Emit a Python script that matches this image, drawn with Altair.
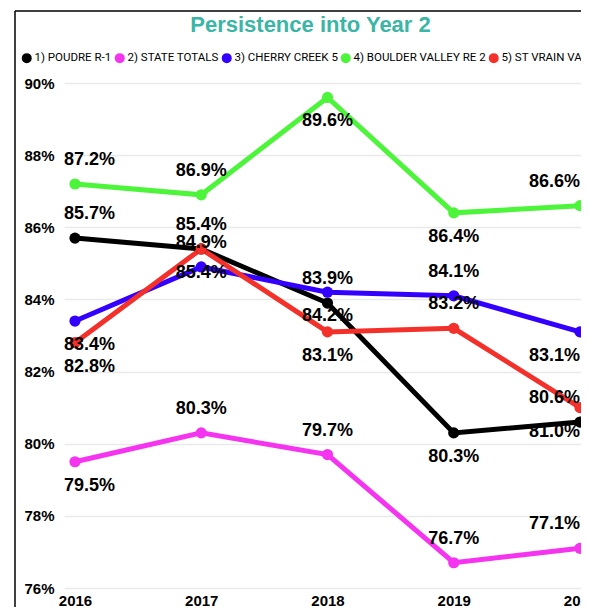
import altair as alt
import pandas as pd

years = [2016, 2017, 2018, 2019, 2020]
series = [
    "1) POUDRE R-1",
    "2) STATE TOTALS",
    "3) CHERRY CREEK 5",
    "4) BOULDER VALLEY RE 2",
    "5) ST VRAIN VALLEY RE 1J",
]
poudre = [85.7, 85.4, 83.9, 80.3, 80.6]
state_totals = [79.5, 80.3, 79.7, 76.7, 77.1]
cherry_creek = [83.4, 84.9, 84.2, 84.1, 83.1]
boulder_valley = [87.2, 86.9, 89.6, 86.4, 86.6]
st_vrain = [82.8, 85.4, 83.1, 83.2, 81.0]
colors = ["#000000", "#F534F0", "#3300FF", "#4CF53A", "#F4302B"]
y_ticks = [76, 78, 80, 82, 84, 86, 88, 90]

# where each data label sits relative to its point
side_poudre = ["above", "above", "above", "below", "above"]
side_state = ["below", "above", "above", "above", "above"]
side_cherry = ["below", "above", "below", "above", "below"]
side_boulder = ["above", "above", "below", "below", "above"]
side_stvrain = ["below", "below", "below", "above", "below"]

values = [poudre, state_totals, cherry_creek, boulder_valley, st_vrain]
sides = [side_poudre, side_state, side_cherry, side_boulder, side_stvrain]

rows = []
for s, vals, sd in zip(series, values, sides):
    for y, v, p in zip(years, vals, sd):
        edge = "first" if y == years[0] else ("last" if y == years[-1] else "mid")
        rows.append({"Year": y, "Series": s, "Value": v, "Label": f"{v:.1f}%", "Side": p, "Edge": edge})
df = pd.DataFrame(rows)

x_enc = alt.X(
    "Year:Q",
    scale=alt.Scale(domain=[2015.913, 2020.008], nice=False, zero=False),
    axis=alt.Axis(
        title=None, values=years, format="d", labelAngle=0, domain=False, ticks=False,
        grid=False, labelFlush=False, labelOverlap=False,
        labelFont="Liberation Sans", labelFontSize=15, labelFontWeight="bold",
        labelColor="#000000", labelPadding=5,
    ),
)
y_enc = alt.Y(
    "Value:Q",
    scale=alt.Scale(domain=[76, 90], nice=False, zero=False),
    axis=alt.Axis(
        title=None, values=y_ticks, labelExpr="datum.value + '%'",
        domain=False, ticks=False, grid=True, gridColor="#E9E9E9", gridWidth=1.5,
        labelFont="Liberation Sans", labelFontSize=15, labelFontWeight="bold",
        labelColor="#000000", labelPadding=10, labelFlush=False,
    ),
)
color_scale = alt.Scale(domain=series, range=colors)

base = alt.Chart(df)

lines = base.mark_line(strokeWidth=5).encode(
    x=x_enc, y=y_enc,
    color=alt.Color(
        "Series:N", scale=color_scale,
        legend=alt.Legend(
            orient="none", legendX=-43, legendY=-31, direction="horizontal",
            title=None, symbolType="circle", symbolSize=25, symbolStrokeWidth=5,
            labelFont="Roboto", labelFontSize=11.5, labelColor="#000000",
            columnPadding=-5, labelOffset=2, labelLimit=300,
            labelExpr="datum.label == '5) ST VRAIN VALLEY RE 1J' ? '5) ST VRAIN VAL..' : datum.label",
        ),
    ),
)
points = base.mark_circle(size=125, opacity=1).encode(
    x=x_enc, y=y_enc,
    fill=alt.Fill("Series:N", scale=color_scale, legend=None),
)

label_style = dict(font="Liberation Sans", fontSize=18, fontWeight="bold", color="#000000", baseline="middle")
edge_style = {"first": ("left", -11), "mid": ("center", 0), "last": ("right", 0)}
label_layers = []
for side, dy in (("above", -24), ("below", 24)):
    for edge, (align, dx) in edge_style.items():
        label_layers.append(
            base.transform_filter((alt.datum.Side == side) & (alt.datum.Edge == edge))
            .mark_text(dy=dy, dx=dx, align=align, **label_style)
            .encode(x=x_enc, y=y_enc, text="Label:N")
        )

frame_df = pd.DataFrame({"f": [0]})
frame_left = alt.Chart(frame_df).mark_rule(color="#000000", strokeWidth=1.5).encode(
    x=alt.value(-49), y=alt.value(-72), y2=alt.value(540)
)
frame_top = alt.Chart(frame_df).mark_rule(color="#000000", strokeWidth=1.5).encode(
    x=alt.value(-49), x2=alt.value(520), y=alt.value(-72)
)

chart = alt.layer(frame_left, frame_top, lines, points, *label_layers).properties(
    width=517,
    height=505,
    title=alt.TitleParams(
        "Persistence into Year 2", anchor="middle", frame="group", offset=0, dy=27, dx=-12,
        font="Liberation Sans", fontSize=22, fontWeight="bold", color="#3AB5A6",
    ),
    autosize=alt.AutoSizeParams(type="none"),
    padding={"left": 56, "top": 75, "right": 0, "bottom": 19},
).configure_view(stroke=None)

chart.save("out.html", embed_options={"renderer": "svg", "actions": False})
